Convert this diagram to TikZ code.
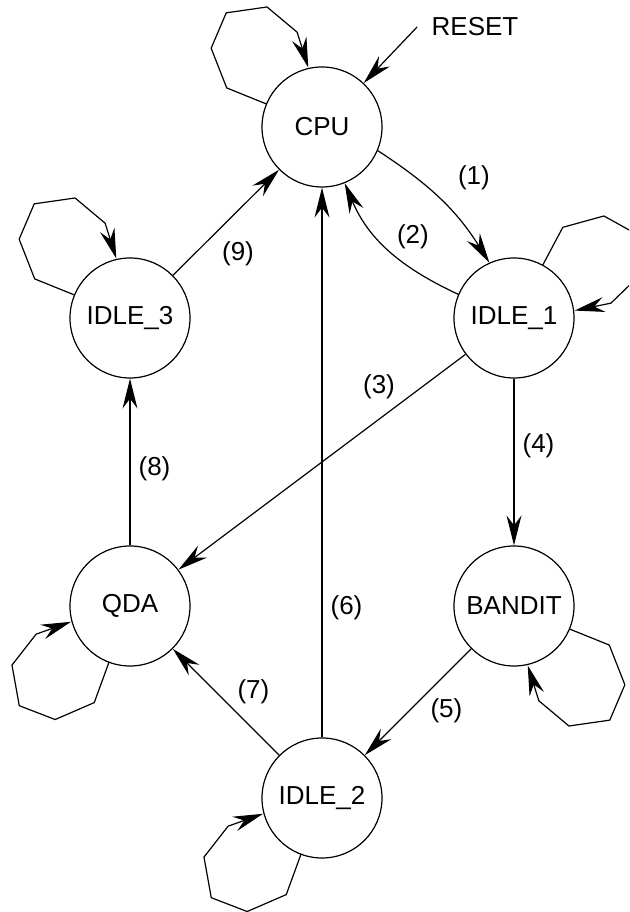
\documentclass[tikz,border=0pt]{standalone}
\usepackage{fontspec}
\setmainfont{Liberation Sans}
\usetikzlibrary{arrows.meta,calc}

\begin{document}
\begin{tikzpicture}[
  x=0.5pt, y=0.5pt,
  font=\fontsize{13}{15}\selectfont,
  line width=0.6pt,
  state/.style={draw, circle, minimum size=60pt, inner sep=0pt},
  lbl/.style={inner sep=2pt},
  >={Stealth[length=15pt, width=7.5pt, inset=5pt]}
]
\useasboundingbox (0,0) rectangle (629,912);
\clip (0,0) rectangle (629,912);

\node[state] (cpu) at (322,785) {CPU};
\node[state] (idle3) at (130,594) {IDLE\_3};
\node[state] (idle1) at (514,594) {IDLE\_1};
\node[state] (qda) at (130,306) {QDA};
\node[state] (bandit) at (514,306) {BANDIT};
\node[state] (idle2) at (322,114) {IDLE\_2};
\node[inner xsep=7pt] (reset) at (475,885) {RESET};

\draw[->] (reset.west) -- (cpu);
\draw[->] (cpu.-23) to[out=-33, in=122] node[pos=0.45, above right, lbl, xshift=9pt]{(1)} (idle1.114);
\draw[->] (idle1.157) to[out=155, in=-67] node[pos=0.5, right=1.5pt, lbl, yshift=7pt]{(2)} (cpu.-68);
\draw[->] (idle1) -- node[pos=0.23, above left, lbl]{(3)} (qda);
\draw[->] (idle1) -- node[pos=0.4, right=2pt, lbl]{(4)} (bandit);
\draw[->] (bandit) -- node[pos=0.425, below right, lbl]{(5)} (idle2);
\draw[->] (idle2) -- node[pos=0.236, right=2pt, lbl]{(6)} (cpu);
\draw[->] (idle2) -- node[pos=0.435, above right, lbl]{(7)} (qda);
\draw[->] (qda) -- node[pos=0.46, right=2pt, lbl]{(8)} (idle3);
\draw[->] (idle3) -- node[pos=0.42, below right, lbl, yshift=-3pt]{(9)} (cpu);

% self loops, drawn as polygons
\foreach \n/\t in {cpu/130, idle3/130, idle1/34, qda/-138, bandit/-50, idle2/-138}
  \draw[->] ($(\n)+({\t+27.5}:60)$) -- ($(\n)+({\t+27.7}:103)$) -- ($(\n)+({\t+14.6}:136)$)
    -- ($(\n)+(\t:149)$) -- ($(\n)+({\t-15.4}:132)$) -- ($(\n)+({\t-25.3}:98)$) -- ($(\n)+({\t-27}:61)$);
\end{tikzpicture}
\end{document}
